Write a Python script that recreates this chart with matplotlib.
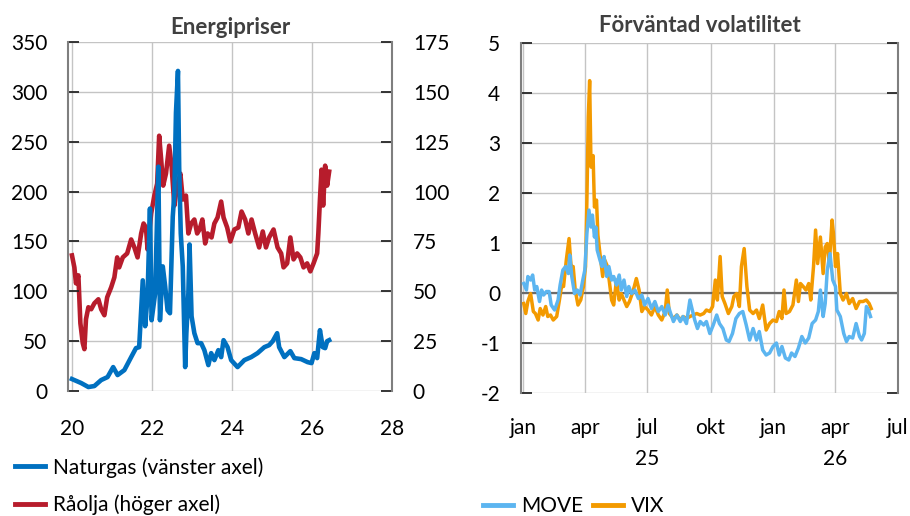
import numpy as np
import matplotlib
matplotlib.use("Agg")
import matplotlib.pyplot as plt
import matplotlib.dates as mdates
from matplotlib.ticker import FuncFormatter, MultipleLocator

plt.rcParams['font.family'] = ['Lato', 'DejaVu Sans']
plt.rcParams['font.size'] = 15

# Energipriser: naturgas (vänster axel), år som decimal (20 = 2020)
gas_year = [20.0, 20.23, 20.41, 20.56, 20.73, 20.89, 21.03, 21.14, 21.31, 21.48, 21.6,
            21.68, 21.77, 21.83, 21.89, 21.95, 21.99, 22.08, 22.16, 22.2, 22.27, 22.33,
            22.39, 22.45, 22.52, 22.56, 22.6, 22.65, 22.68, 22.72, 22.77, 22.79, 22.83,
            22.86, 22.91, 22.94, 22.99, 23.06, 23.14, 23.23, 23.31, 23.41, 23.48, 23.56,
            23.66, 23.73, 23.79, 23.89, 23.98, 24.14, 24.31, 24.48, 24.64, 24.81, 24.93,
            25.02, 25.13, 25.18, 25.31, 25.46, 25.56, 25.73, 25.89, 25.99, 26.06, 26.13,
            26.2, 26.27, 26.33, 26.38, 26.43]
gas_val = [12, 8, 4, 5, 11, 14, 24, 16, 21, 34, 43,
           44, 111, 65, 95, 183, 71, 98, 225, 71, 125, 105,
           81, 78, 175, 198, 279, 321, 225, 158, 125, 91, 24,
           58, 98, 147, 75, 58, 48, 48, 41, 26, 38, 31,
           41, 34, 51, 44, 31, 24, 31, 34, 38, 44, 46,
           50, 58, 44, 34, 40, 33, 32, 29, 28, 38, 33,
           61, 44, 43, 50, 51]

# Råolja (höger axel)
oil_year = [20.0, 20.06, 20.1, 20.16, 20.21, 20.27, 20.31, 20.35, 20.41, 20.48, 20.56,
            20.66, 20.73, 20.81, 20.88, 20.98, 21.06, 21.13, 21.18, 21.27, 21.38, 21.48,
            21.56, 21.64, 21.73, 21.79, 21.85, 21.89, 21.98, 22.06, 22.13, 22.18, 22.23,
            22.28, 22.35, 22.43, 22.49, 22.56, 22.63, 22.71, 22.77, 22.85, 22.91, 22.98,
            23.06, 23.13, 23.19, 23.26, 23.33, 23.39, 23.49, 23.56, 23.64, 23.73, 23.79,
            23.88, 23.96, 24.06, 24.16, 24.24, 24.33, 24.41, 24.49, 24.58, 24.68, 24.77,
            24.85, 24.93, 25.04, 25.14, 25.23, 25.29, 25.38, 25.46, 25.54, 25.63, 25.71,
            25.79, 25.88, 25.96, 26.04, 26.13, 26.16, 26.2, 26.24, 26.28, 26.33, 26.38,
            26.43]
oil_val = [68, 62, 54, 58, 34, 24, 21, 36, 42, 41, 44,
           46, 41, 38, 47, 52, 57, 67, 62, 67, 69, 76,
           72, 67, 79, 84, 82, 71, 89, 98, 104, 128, 116,
           103, 109, 123, 113, 93, 103, 109, 96, 98, 79, 84,
           86, 79, 81, 86, 74, 79, 77, 84, 87, 95, 87,
           82, 75, 81, 82, 90, 86, 79, 86, 79, 72, 80,
           72, 77, 81, 72, 69, 62, 64, 77, 66, 69, 67,
           62, 64, 60, 64, 69, 79, 96, 111, 93, 113, 103,
           110]

# Förväntad volatilitet, dagar efter 2025-01-01
move_day = [1, 5, 7, 11, 14, 17, 20, 24, 27, 30, 34, 38, 41, 46, 51, 54, 58, 62, 66, 68,
            71, 75, 79, 83, 87, 90, 93, 96, 99, 101, 104, 106, 108, 112, 115, 118, 122,
            125, 129, 132, 136, 140, 143, 147, 151, 154, 158, 163, 168, 173, 177, 182,
            187, 192, 197, 202, 207, 211, 215, 219, 224, 229, 233, 238, 243, 247, 250,
            254, 258, 263, 267, 272, 277, 282, 286, 291, 296, 300, 305, 310, 315, 320,
            325, 330, 335, 340, 344, 349, 354, 359, 364, 369, 373, 377, 382, 387, 391,
            396, 401, 406, 411, 416, 421, 426, 430, 433, 437, 440, 443, 447, 451, 455,
            457, 462, 467, 471, 475, 480, 485, 490, 493, 497, 500, 503, 506]
move_val = [0.19, 0.06, 0.33, 0.26, 0.36, 0.06, 0.13, -0.17, 0.06, -0.04, 0.03, 0.03,
            -0.24, -0.34, -0.14, 0.16, 0.46, 0.53, 0.39, 0.76, 0.33, -0.01, 0.06, -0.04,
            0.26, 0.46, 1.19, 1.66, 1.32, 1.56, 1.12, 1.32, 0.86, 0.66, 0.53, 0.73, 0.33,
            0.53, 0.26, 0.33, 0.16, 0.36, 0.06, 0.26, -0.07, 0.13, -0.01, 0.06, -0.11,
            -0.04, -0.24, -0.11, -0.31, -0.17, -0.37, -0.27, -0.44, -0.24, -0.41, -0.57,
            -0.44, -0.57, -0.47, -0.61, -0.14, -0.37, -0.54, -0.71, -0.57, -0.64, -0.57,
            -0.81, -0.64, -0.44, -0.61, -0.71, -0.94, -0.97, -0.81, -0.51, -0.41, -0.37,
            -0.64, -0.94, -0.71, -0.94, -0.77, -1.14, -1.24, -1.20, -1.07, -1.00, -1.24,
            -1.07, -1.30, -1.34, -1.20, -1.27, -1.10, -0.87, -1.00, -0.90, -0.61, -0.54,
            -0.37, 0.06, -0.47, -0.21, 0.46, 0.79, 0.26, 0.13, -0.34, -0.47, -0.81, -0.97,
            -0.87, -0.90, -0.61, -0.87, -0.94, -0.81, -0.27, -0.34, -0.47]
vix_day = [1, 4, 7, 11, 15, 18, 22, 25, 29, 33, 36, 40, 44, 49, 53, 56, 59, 63, 67, 70,
           73, 76, 80, 84, 88, 91, 93, 95, 97, 99, 102, 104, 107, 109, 112, 116, 119,
           123, 126, 129, 132, 136, 140, 143, 147, 151, 155, 159, 162, 165, 169, 173,
           177, 182, 187, 192, 197, 202, 207, 210, 213, 219, 224, 229, 233, 238, 243,
           248, 253, 258, 263, 267, 272, 276, 280, 283, 287, 290, 294, 299, 304, 307,
           311, 315, 318, 322, 326, 330, 335, 340, 344, 349, 354, 359, 364, 369, 373,
           377, 380, 383, 388, 393, 398, 401, 404, 408, 412, 416, 419, 423, 426, 429,
           433, 437, 440, 443, 446, 450, 452, 455, 458, 462, 466, 471, 475, 480, 485,
           490, 495, 500, 504, 507]
vix_val = [-0.21, -0.41, -0.17, -0.01, -0.37, -0.41, -0.54, -0.31, -0.44, -0.27, -0.47,
           -0.44, -0.54, -0.47, -0.14, 0.13, 0.13, 0.66, 1.09, 0.53, 0.53, 0.06, -0.24,
           -0.14, 0.13, 0.53, 1.86, 3.52, 4.25, 2.52, 2.75, 1.72, 1.86, 1.16, 0.79, 0.33,
           0.66, 0.53, 0.19, -0.14, -0.24, 0.26, -0.14, -0.01, -0.14, -0.27, -0.17,
           -0.01, 0.13, 0.29, 0.06, -0.37, -0.27, -0.34, -0.44, -0.27, -0.44, -0.54,
           -0.37, 0.06, -0.41, -0.51, -0.44, -0.54, -0.47, -0.51, -0.47, -0.44, -0.41,
           -0.44, -0.41, -0.34, -0.37, -0.27, 0.26, -0.14, 0.73, -0.07, -0.21, -0.41,
           -0.27, -0.07, -0.01, -0.27, 0.53, 0.89, 0.13, -0.34, -0.41, -0.34, -0.51,
           -0.24, -0.74, -0.61, -0.54, -0.57, -0.37, -0.51, 0.06, -0.41, -0.37, -0.24,
           0.26, -0.17, 0.19, 0.13, 0.06, 0.19, -0.14, 0.53, 1.26, 0.59, 1.12, 0.39, 0.92,
           0.99, 0.59, 1.46, 1.19, 0.53, 0.79, -0.01, -0.14, -0.01, -0.21, -0.11, -0.31,
           -0.17, -0.17, -0.14, -0.21, -0.31]

start = np.datetime64('2025-01-01')
move_dates = start + np.array(move_day).astype('timedelta64[D]')
vix_dates = start + np.array(vix_day).astype('timedelta64[D]')

c_gas = '#0070c0'
c_oil = '#b71c2c'
c_move = '#5cb5f0'
c_vix = '#f39a00'
grid_kw = dict(color='#c4c4c4', linewidth=1.0, alpha=1.0, linestyle='-')
spine_c = '#7f7f7f'
tick_kw = dict(direction='in', length=8, width=1.3, color='#262626', pad=15)

fig = plt.figure(figsize=(9.1, 5.16), dpi=100)

# ---------- vänster panel ----------
# primary axes holds oil (right scale) + grid, twin on top holds gas (left scale)
ax = fig.add_axes([0.0747, 0.2422, 0.356, 0.6764])
ag = ax.twinx()
ax.yaxis.tick_right()
ag.yaxis.tick_left()

ax.plot(oil_year, oil_val, color=c_oil, lw=3.3)
ag.plot(gas_year, gas_val, color=c_gas, lw=3.3)

ax.set_xlim(19.9, 28)
ax.set_ylim(0, 175)
ag.set_ylim(0, 350)
ax.yaxis.set_major_locator(MultipleLocator(25))
ag.yaxis.set_major_locator(MultipleLocator(50))
ax.xaxis.set_major_locator(MultipleLocator(2))
ax.xaxis.set_major_formatter(FuncFormatter(lambda v, p: f'{v:.0f}'))

for a in (ax, ag):
    for s in ('top', 'bottom'):
        a.spines[s].set_visible(False)
ax.spines['left'].set_visible(False)
ag.spines['right'].set_visible(False)
ag.spines['left'].set_color(spine_c)
ax.spines['right'].set_color(spine_c)
ag.spines['left'].set_linewidth(1.5)
ax.spines['right'].set_linewidth(1.5)

ax.tick_params(axis='y', left=False, right=True, labelleft=False, labelright=True, **tick_kw)
ag.tick_params(axis='y', left=True, right=False, labelleft=True, labelright=False, **tick_kw)
ax.tick_params(axis='x', length=0, pad=20)
ax.set_axisbelow(True)
ax.grid(True, which='major', axis='both', **grid_kw)

ax.set_title('Energipriser', fontsize=16, fontweight='bold', color='#404040', pad=6)

# ---------- höger panel ----------
bx = fig.add_axes([0.5725, 0.2384, 0.4143, 0.678])
bx.plot(move_dates, move_val, color=c_move, lw=2.5, label='MOVE', zorder=3)
bx.plot(vix_dates, vix_val, color=c_vix, lw=2.5, label='VIX', zorder=2)
bx.axhline(0, color='#6a6a6a', lw=1.6, zorder=1.5)

bx.set_xlim(np.datetime64('2024-12-29'), np.datetime64('2026-07-01'))
bx.set_ylim(-2, 5)
bx.yaxis.set_major_locator(MultipleLocator(1))
bx.xaxis.set_major_locator(mdates.MonthLocator(bymonth=[1, 4, 7, 10]))

months_sv = {1: 'jan', 4: 'apr', 7: 'jul', 10: 'okt'}
year_at = {(2025, 7): '25', (2026, 4): '26'}


def date_label(v, pos):
    d = mdates.num2date(v)
    lab = months_sv.get(d.month, '')
    yr = year_at.get((d.year, d.month))
    if yr:
        lab = lab + '\n' + yr
    return lab


bx.xaxis.set_major_formatter(FuncFormatter(date_label))
bx.yaxis.set_major_formatter(FuncFormatter(lambda v, p: f'{v:.0f}'))
for s in ('top', 'bottom'):
    bx.spines[s].set_visible(False)
for s in ('left', 'right'):
    bx.spines[s].set_color(spine_c)
    bx.spines[s].set_linewidth(1.5)
bx.tick_params(axis='y', left=True, right=True, labelright=False, **tick_kw)
bx.tick_params(axis='x', length=0, pad=18)
bx.set_axisbelow(True)
bx.grid(True, which='major', axis='both', **grid_kw)

bx.text(0.475, 1.02, 'Förväntad volatilitet', transform=bx.transAxes, ha='center',
        va='bottom', fontsize=16, fontweight='bold', color='#404040')

# ---------- legender ----------
h_gas = plt.Line2D([], [], color=c_gas, lw=3.5)
h_oil = plt.Line2D([], [], color=c_oil, lw=3.5)
fig.legend([h_gas, h_oil], ['Naturgas (vänster axel)', 'Råolja (höger axel)'],
           loc='upper left', bbox_to_anchor=(0.0165, 0.114), frameon=False,
           borderaxespad=0, borderpad=0, handlelength=1.45, handletextpad=0.35,
           labelspacing=0.8)
h_move = plt.Line2D([], [], color=c_move, lw=3.5)
h_vix = plt.Line2D([], [], color=c_vix, lw=3.5)
fig.legend([h_move, h_vix], ['MOVE', 'VIX'], loc='upper left',
           bbox_to_anchor=(0.531, 0.038), frameon=False, ncol=2,
           borderaxespad=0, borderpad=0, handlelength=1.45, handletextpad=0.35,
           columnspacing=0.5)

fig.canvas.draw()
for t in bx.get_xticklabels():
    t.set_linespacing(1.7)

fig.savefig('out.png', dpi=100)
